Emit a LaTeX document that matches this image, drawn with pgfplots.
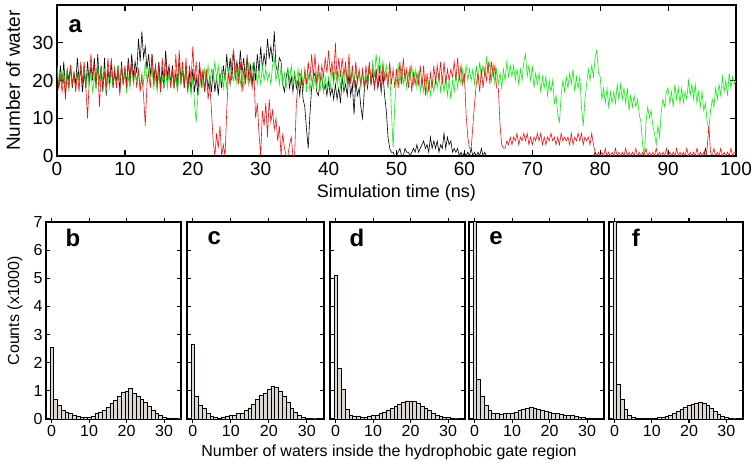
\documentclass[border=0pt]{standalone}
\usepackage{pgfplots}
\usepackage{pgfplotstable}
\pgfplotsset{compat=1.18}
\usepackage{fontspec}
\setmainfont{Liberation Sans}
\definecolor{mygreen}{RGB}{20,235,20}
\definecolor{myred}{RGB}{240,20,20}
\definecolor{barfill}{RGB}{220,216,208}
% time series, one value every 0.25 ns starting at 0 ns
\pgfplotstableread[row sep=\\]{y\\
22\\18\\24\\19\\25\\17\\23\\20\\24\\18\\22\\19\\26\\20\\23\\17\\22\\18\\25\\19\\
24\\20\\26\\18\\27\\19\\24\\17\\26\\16\\23\\19\\25\\18\\22\\20\\24\\17\\25\\19\\
23\\19\\26\\20\\27\\21\\25\\22\\31\\25\\33\\26\\29\\23\\27\\21\\27\\20\\24\\19\\
25\\19\\23\\18\\28\\21\\24\\19\\24\\18\\22\\17\\25\\19\\23\\18\\24\\18\\22\\17\\
23\\17\\21\\16\\24\\19\\22\\17\\22\\18\\21\\17\\23\\17\\21\\16\\22\\18\\24\\20\\
27\\21\\26\\20\\28\\22\\25\\21\\28\\22\\26\\20\\26\\21\\24\\19\\25\\20\\27\\22\\
29\\23\\27\\24\\31\\26\\29\\25\\33\\24\\22\\26\\25\\19\\17\\21\\23\\18\\21\\17\\
22\\18\\20\\16\\21\\15\\13\\7\\2\\11\\18\\21\\22\\17\\16\\20\\21\\17\\19\\16\\
20\\16\\18\\15\\19\\15\\18\\14\\21\\17\\19\\16\\22\\16\\19\\11\\20\\16\\18\\13\\
10\\17\\21\\18\\24\\19\\22\\18\\23\\18\\21\\17\\22\\16\\12\\5\\2\\1\\1\\0\\
0\\1\\2\\0\\0\\2\\1\\1\\0\\1\\2\\1\\3\\1\\2\\3\\4\\2\\3\\1\\
5\\2\\4\\2\\4\\1\\3\\2\\6\\2\\5\\3\\4\\1\\2\\1\\2\\0\\1\\0\\
1\\0\\1\\0\\2\\0\\1\\0\\1\\0\\2\\0\\1\\0\\
}\blackdata
\pgfplotstableread[row sep=\\]{y\\
24\\19\\22\\20\\22\\18\\23\\17\\23\\19\\21\\18\\22\\20\\24\\19\\24\\18\\22\\19\\
22\\17\\21\\18\\25\\19\\23\\20\\23\\17\\21\\18\\22\\19\\24\\18\\24\\20\\23\\19\\
22\\17\\21\\18\\24\\19\\22\\20\\23\\18\\22\\19\\25\\20\\23\\21\\23\\18\\21\\17\\
22\\17\\21\\18\\23\\18\\22\\19\\22\\18\\21\\17\\24\\19\\23\\20\\23\\17\\20\\16\\
21\\14\\9\\16\\19\\22\\18\\23\\20\\24\\19\\23\\21\\25\\20\\24\\19\\23\\18\\22\\
18\\23\\19\\22\\20\\24\\19\\23\\19\\22\\18\\23\\20\\25\\20\\24\\21\\23\\19\\22\\
19\\24\\20\\23\\20\\22\\19\\24\\26\\20\\23\\19\\24\\19\\22\\18\\23\\20\\24\\19\\
22\\19\\23\\18\\23\\18\\22\\17\\22\\17\\21\\18\\21\\18\\22\\17\\22\\17\\21\\18\\
21\\18\\23\\19\\23\\19\\22\\18\\22\\18\\23\\19\\24\\20\\22\\19\\23\\19\\22\\18\\
22\\18\\21\\19\\24\\20\\25\\21\\27\\22\\26\\21\\25\\21\\24\\20\\23\\12\\2\\14\\
20\\24\\19\\23\\19\\23\\18\\22\\20\\24\\19\\23\\18\\22\\17\\21\\17\\21\\16\\20\\
16\\20\\17\\21\\18\\22\\17\\21\\17\\21\\16\\20\\15\\20\\17\\22\\18\\22\\19\\23\\
19\\24\\20\\23\\20\\23\\19\\24\\19\\25\\21\\24\\21\\26\\22\\25\\20\\24\\19\\23\\
19\\22\\18\\23\\20\\25\\21\\24\\21\\24\\20\\23\\19\\23\\20\\25\\27\\21\\24\\20\\
24\\18\\22\\19\\22\\17\\21\\18\\21\\16\\20\\17\\20\\14\\16\\11\\9\\16\\20\\17\\
21\\18\\22\\19\\23\\17\\21\\18\\21\\13\\8\\15\\19\\23\\20\\24\\21\\26\\28\\22\\
21\\15\\18\\14\\18\\13\\17\\14\\17\\14\\19\\15\\19\\15\\18\\14\\18\\12\\16\\13\\
16\\13\\15\\11\\9\\3\\0\\9\\13\\10\\12\\8\\6\\3\\8\\5\\12\\15\\13\\17\\
18\\14\\17\\13\\19\\15\\18\\14\\18\\14\\17\\15\\20\\16\\19\\15\\19\\14\\17\\13\\
17\\12\\14\\9\\7\\12\\15\\13\\18\\15\\19\\16\\21\\17\\20\\16\\22\\18\\21\\19\\
20\\
}\greendata
\pgfplotstableread[row sep=\\]{y\\
23\\18\\21\\17\\21\\15\\22\\18\\24\\19\\22\\17\\22\\17\\25\\19\\25\\18\\10\\20\\
27\\21\\24\\19\\24\\13\\22\\18\\22\\18\\26\\20\\26\\19\\23\\18\\23\\16\\24\\19\\
24\\18\\25\\19\\25\\20\\23\\18\\23\\17\\21\\16\\8\\19\\22\\18\\27\\19\\24\\18\\
24\\17\\26\\20\\26\\20\\23\\18\\23\\18\\27\\19\\28\\20\\25\\18\\26\\17\\24\\20\\
29\\20\\25\\18\\25\\18\\23\\17\\23\\15\\19\\12\\4\\0\\6\\2\\8\\0\\3\\0\\
12\\22\\19\\25\\28\\20\\24\\19\\25\\17\\23\\19\\27\\19\\22\\18\\22\\10\\14\\6\\
0\\12\\8\\14\\5\\15\\9\\12\\7\\10\\4\\8\\0\\6\\2\\0\\0\\3\\5\\0\\
0\\14\\19\\22\\21\\18\\23\\19\\25\\20\\27\\21\\27\\19\\24\\20\\24\\21\\26\\22\\
28\\22\\25\\20\\30\\20\\26\\21\\26\\21\\25\\19\\27\\19\\24\\18\\25\\20\\23\\19\\
23\\18\\24\\20\\25\\19\\23\\18\\22\\18\\24\\17\\24\\20\\22\\18\\25\\19\\23\\18\\
23\\18\\25\\19\\26\\20\\23\\18\\24\\17\\22\\19\\22\\19\\24\\18\\24\\16\\22\\17\\
22\\18\\24\\19\\24\\20\\25\\19\\25\\19\\23\\20\\23\\21\\25\\20\\26\\20\\24\\19\\
22\\11\\5\\2\\2\\8\\14\\19\\22\\17\\23\\18\\23\\20\\25\\19\\25\\21\\24\\18\\
18\\8\\3\\2\\2\\4\\3\\5\\3\\5\\4\\6\\3\\5\\4\\6\\4\\6\\3\\5\\
3\\5\\4\\6\\4\\6\\3\\5\\3\\5\\4\\6\\4\\5\\3\\5\\3\\6\\4\\5\\
4\\5\\3\\6\\3\\5\\4\\6\\4\\6\\3\\5\\4\\5\\3\\6\\3\\1\\0\\1\\
0\\1\\0\\2\\0\\1\\0\\1\\0\\2\\0\\1\\0\\1\\0\\2\\0\\1\\0\\1\\
0\\2\\0\\1\\0\\1\\0\\2\\0\\1\\0\\1\\0\\2\\0\\1\\0\\1\\0\\2\\
0\\1\\0\\1\\0\\2\\0\\1\\0\\1\\0\\2\\0\\1\\0\\1\\0\\2\\0\\1\\
0\\1\\0\\2\\8\\1\\0\\2\\0\\1\\0\\2\\0\\1\\0\\1\\0\\2\\0\\1\\
1\\
}\reddata
\pgfplotsset{
  common/.style={
    scale only axis,
    anchor=south west,
    /pgf/number format/assume math mode=true,
    tick align=inside,
    tick style={black, line width=1.2pt},
    axis line style={line width=2pt},
  },
  hist/.style={
    common,
    width=135pt, height=197pt,
    xmin=-1.5, xmax=34.5, ymin=0, ymax=7,
    xtick={0,10,20,30}, ytick={0,1,2,3,4,5,6,7},
    major tick length=4pt,
    yticklabels={},
    ticklabel style={font=\fontsize{16}{18}\selectfont},
    xticklabel style={yshift=1pt},
    ybar, bar width=1,
    cycle list={{fill=barfill, draw=black, line width=0.6pt}},
  },
}
\begin{document}
\begin{tikzpicture}
\useasboundingbox (0,0) rectangle (754pt,469pt);
% ---------------- panel a ----------------
\begin{axis}[common,
  at={(57pt,313pt)}, width=679pt, height=151pt,
  xmin=0, xmax=100, ymin=0, ymax=40,
  xtick={0,10,...,100}, ytick={0,10,20,30},
  major tick length=6pt,
  axis line style={line width=2.6pt},
  ticklabel style={font=\fontsize{19}{21}\selectfont},
  xticklabel style={yshift=-3pt},
  xlabel={Simulation time (ns)},
  ylabel={Number of water},
  xlabel style={font=\fontsize{18}{20}\selectfont, at={(axis description cs:0.5,0)}, anchor=center, yshift=-37pt},
  ylabel style={font=\fontsize{19}{21}\selectfont, at={(axis description cs:0,0.5)}, anchor=center, yshift=44pt},
  every axis plot/.append style={line width=0.6pt},
]
\addplot[black] table[x expr=\coordindex/4, y=y] {\blackdata};
\addplot[black] coordinates {(63.25,0)(79,0)(79.25,1)(79.5,0)(95.25,0)(95.5,2)(95.75,0)(100,0)};
\addplot[mygreen] table[x expr=\coordindex/4, y=y] {\greendata};
\addplot[myred] table[x expr=\coordindex/4, y=y] {\reddata};
\node[font=\fontsize{24}{26}\selectfont\bfseries] at (axis description cs:0.027,0.86) {a};
\end{axis}
% ---------------- panel b ----------------
\begin{axis}[hist, at={(46pt,50pt)},
  yticklabels={0,1,2,3,4,5,6,7},
  ylabel={Counts (x1000)},
  ylabel style={font=\fontsize{16}{18}\selectfont, at={(axis description cs:0,0.55)}, anchor=center, yshift=31pt},
]
\addplot coordinates {(0,2.55)(1,0.7)(2,0.5)(3,0.3)(4,0.25)(5,0.2)(6,0.15)(7,0.1)(8,0.08)(9,0.08)(10,0.08)(11,0.1)(12,0.2)(13,0.25)(14,0.3)(15,0.42)(16,0.55)(17,0.68)(18,0.8)(19,0.95)(20,1.0)(21,1.08)(22,0.92)(23,0.8)(24,0.7)(25,0.6)(26,0.45)(27,0.32)(28,0.2)(29,0.12)(30,0.07)(31,0.04)(32,0.02)(33,0.02)(34,0.01)};
\node[font=\fontsize{24}{26}\selectfont\bfseries] at (axis description cs:0.2,0.92) {b};
\end{axis}
% ---------------- panel c ----------------
\begin{axis}[hist, at={(187pt,50pt)}, width=137pt]
\addplot coordinates {(0,2.65)(1,0.8)(2,0.5)(3,0.38)(4,0.2)(5,0.1)(6,0.05)(7,0.04)(8,0.08)(9,0.1)(10,0.12)(11,0.15)(12,0.2)(13,0.22)(14,0.3)(15,0.4)(16,0.52)(17,0.7)(18,0.85)(19,0.9)(20,1.05)(21,1.18)(22,1.12)(23,0.98)(24,0.8)(25,0.6)(26,0.38)(27,0.25)(28,0.12)(29,0.07)(30,0.03)(31,0.02)(32,0.01)};
\node[font=\fontsize{24}{26}\selectfont\bfseries] at (axis description cs:0.2,0.92) {c};
\end{axis}
% ---------------- panel d ----------------
\begin{axis}[hist, at={(330pt,50pt)}]
\addplot coordinates {(0,5.1)(1,1.8)(2,1.05)(3,0.35)(4,0.15)(5,0.1)(6,0.1)(7,0.08)(8,0.08)(9,0.1)(10,0.12)(11,0.15)(12,0.2)(13,0.25)(14,0.3)(15,0.38)(16,0.45)(17,0.52)(18,0.6)(19,0.65)(20,0.65)(21,0.62)(22,0.55)(23,0.45)(24,0.38)(25,0.3)(26,0.22)(27,0.15)(28,0.1)(29,0.07)(30,0.05)(31,0.03)(32,0.01)};
\node[font=\fontsize{24}{26}\selectfont\bfseries] at (axis description cs:0.2,0.92) {d};
\end{axis}
% ---------------- panel e ----------------
\begin{axis}[hist, at={(469pt,50pt)}]
\addplot coordinates {(0,9)(1,1.4)(2,0.8)(3,0.5)(4,0.3)(5,0.22)(6,0.2)(7,0.18)(8,0.2)(9,0.22)(10,0.22)(11,0.25)(12,0.3)(13,0.35)(14,0.38)(15,0.42)(16,0.4)(17,0.35)(18,0.3)(19,0.28)(20,0.25)(21,0.22)(22,0.2)(23,0.18)(24,0.15)(25,0.13)(26,0.12)(27,0.1)(28,0.08)(29,0.05)(30,0.03)(31,0.02)};
\node[font=\fontsize{24}{26}\selectfont\bfseries] at (axis description cs:0.2,0.92) {e};
\end{axis}
% ---------------- panel f ----------------
\begin{axis}[hist, at={(609pt,50pt)}, width=134pt]
\addplot coordinates {(0,9)(1,1.22)(2,0.7)(3,0.35)(4,0.12)(5,0.05)(6,0.02)(7,0.02)(8,0.02)(9,0.02)(10,0.03)(11,0.04)(12,0.05)(13,0.07)(14,0.1)(15,0.14)(16,0.2)(17,0.28)(18,0.35)(19,0.42)(20,0.5)(21,0.52)(22,0.55)(23,0.58)(24,0.55)(25,0.48)(26,0.38)(27,0.28)(28,0.18)(29,0.1)(30,0.05)(31,0.02)(32,0.01)};
\node[font=\fontsize{24}{26}\selectfont\bfseries] at (axis description cs:0.2,0.92) {f};
\end{axis}
\node[font=\fontsize{16}{18}\selectfont] at (389pt,17pt) {Number of waters inside the hydrophobic gate region};
\end{tikzpicture}
\end{document}
